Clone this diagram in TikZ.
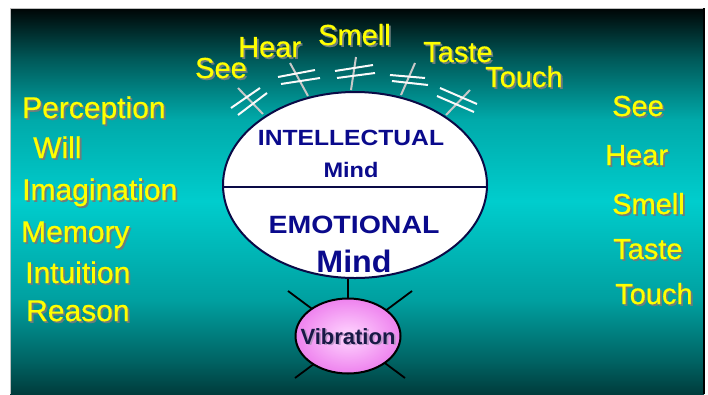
\documentclass[tikz,border=0pt]{standalone}
\usepackage{fontspec}
\setmainfont{Liberation Sans}
\newfontfamily\ylfont{Liberation Sans}[FakeBold=0.6]
\usetikzlibrary{shapes.geometric}
\definecolor{ytxt}{RGB}{255,255,0}
\definecolor{ysh}{RGB}{110,125,125}
\definecolor{navy}{RGB}{10,10,140}
\definecolor{mindline}{RGB}{10,10,70}
\definecolor{vibtxt}{RGB}{25,25,70}
\definecolor{vibsh}{RGB}{190,150,200}
\definecolor{vibin}{RGB}{255,215,255}
\definecolor{vibout}{RGB}{238,130,238}
\definecolor{antbar}{RGB}{250,250,250}
\definecolor{antstick}{RGB}{200,200,200}
\definecolor{bga}{RGB}{0,60,60}
\definecolor{bgb}{RGB}{0,100,100}
\definecolor{bgc}{RGB}{0,160,160}
\definecolor{bgd}{RGB}{0,205,205}
\definecolor{bge}{RGB}{0,170,170}
\definecolor{bgf}{RGB}{0,90,90}
\definecolor{bgg}{RGB}{0,5,5}
\pgfdeclareverticalshading{bgsh}{100bp}{color(0bp)=(bga); color(25bp)=(bga); color(29.4bp)=(bgb); color(37.2bp)=(bgc); color(50bp)=(bgd); color(60.5bp)=(bge); color(68.3bp)=(bgf); color(75bp)=(bgg); color(100bp)=(bgg)}
\newcommand\shadowed[2]{\rlap{\kern1.8pt\raisebox{-1.8pt}{\textcolor{#1}{#2}}}#2}
\newcommand\ylabel[5]{%
  \node[yt, font=\ylfont\fontsize{#4}{#4}\selectfont] (#1) at (#2,#3) {\shadowed{ysh}{#5}};}
\begin{document}
\begin{tikzpicture}[x=1pt,y=-1pt,
  yt/.style={text=ytxt, anchor=base west, inner sep=0},
  bar/.style={draw=antbar, line width=2pt},
  stick/.style={draw=antstick, line width=2pt},
  mindtxt/.style={text=navy, anchor=base, inner sep=0},
  xline/.style={draw=black, line width=1.8pt}]
\useasboundingbox (0,0) rectangle (708,394);
\fill[white] (0,0) rectangle (708,394);
\shade[shading=bgsh] (10,8) rectangle (704,394);
\draw[gray!50, line width=1pt] (10,394) -- (10,8) -- (704,8);
\draw[black, line width=1.5pt] (704,8) -- (704,394);

% antennae
\coordinate (seeA) at (238,88);  \coordinate (seeB) at (263,114);
\coordinate (seeC) at (231,108); \coordinate (seeD) at (260,88);
\coordinate (seeE) at (238,115); \coordinate (seeF) at (267,93);
\coordinate (hearA) at (290,63);  \coordinate (hearB) at (308,96);
\coordinate (hearC) at (278,77);  \coordinate (hearD) at (315,70);
\coordinate (hearE) at (281,84);  \coordinate (hearF) at (320,78);
\coordinate (smellA) at (356,57); \coordinate (smellB) at (351,90);
\coordinate (smellC) at (335,71); \coordinate (smellD) at (373,65);
\coordinate (smellE) at (337,78); \coordinate (smellF) at (375,73);
\coordinate (tasteA) at (415,63); \coordinate (tasteB) at (401,95);
\coordinate (tasteC) at (390,75); \coordinate (tasteD) at (425,78);
\coordinate (tasteE) at (392,81); \coordinate (tasteF) at (428,85);
\coordinate (touchA) at (470,90); \coordinate (touchB) at (446,115);
\coordinate (touchC) at (440,88); \coordinate (touchD) at (477,104);
\coordinate (touchE) at (437,96); \coordinate (touchF) at (474,112);
\foreach \a in {see,hear,smell,taste,touch}{
  \draw[stick] (\a A) -- (\a B);
  \draw[bar] (\a C) -- (\a D);
  \draw[bar] (\a E) -- (\a F);
}

% top labels
\ylabel{tSee}{195}{78}{29}{See}
\ylabel{tHear}{238}{57}{29}{Hear}
\ylabel{tSmell}{318}{45}{29}{Smell}
\ylabel{tTaste}{423}{62}{29}{Taste}
\ylabel{tTouch}{485}{87}{29}{Touch}

% left labels
\ylabel{lPer}{22}{118}{30}{Perception}
\ylabel{lWill}{33}{158}{30}{Will}
\ylabel{lIma}{22}{200}{30}{Imagination}
\ylabel{lMem}{21}{242}{30}{Memory}
\ylabel{lInt}{25}{283}{30}{Intuition}
\ylabel{lRea}{26}{321}{30}{Reason}

% right labels
\ylabel{rSee}{612}{116}{29}{See}
\ylabel{rHear}{605}{165}{29}{Hear}
\ylabel{rSmell}{612}{214}{29}{Smell}
\ylabel{rTaste}{613}{259}{29}{Taste}
\ylabel{rTouch}{615}{304}{29}{Touch}

% mind
\node[draw=mindline, line width=2pt, fill=white, ellipse, minimum width=264pt, minimum height=186pt, inner sep=0] (mind) at (355,185) {};
\draw[mindline, line width=1.8pt] ([yshift=-2pt]mind.west) -- ([yshift=-2pt]mind.east);
\node[mindtxt, font=\bfseries\fontsize{22}{22}\selectfont] (intl) at (351,145) {\scalebox{1.12}[1]{INTELLECTUAL}};
\node[mindtxt, font=\bfseries\fontsize{21}{21}\selectfont] (mind1) at (351,177) {\scalebox{1.12}[1]{Mind}};
\node[mindtxt, font=\bfseries\fontsize{25}{25}\selectfont] (emot) at (354,233) {\scalebox{1.14}[1]{EMOTIONAL}};
\node[mindtxt, font=\bfseries\fontsize{31}{31}\selectfont] (mind2) at (354,272) {\scalebox{1.04}[1]{Mind}};

% vibration
\coordinate (xa) at (288,291); \coordinate (xb) at (405,378);
\coordinate (xc) at (412,291); \coordinate (xd) at (295,378);
\draw[xline] (xa) -- (xb);
\draw[xline] (xc) -- (xd);
\node[draw=black, line width=2pt, ellipse, inner color=vibin, outer color=vibout, minimum width=105pt, minimum height=75pt, inner sep=0] (vib) at (348,336) {};
\draw[black, line width=1.8pt] (vib.north) -- (vib.north |- mind.south);
\node[text=vibtxt, anchor=base, inner sep=0, font=\bfseries\fontsize{22}{22}\selectfont] (vibt) at (348,344) {\shadowed{vibsh}{Vibration}};
\end{tikzpicture}
\end{document}
